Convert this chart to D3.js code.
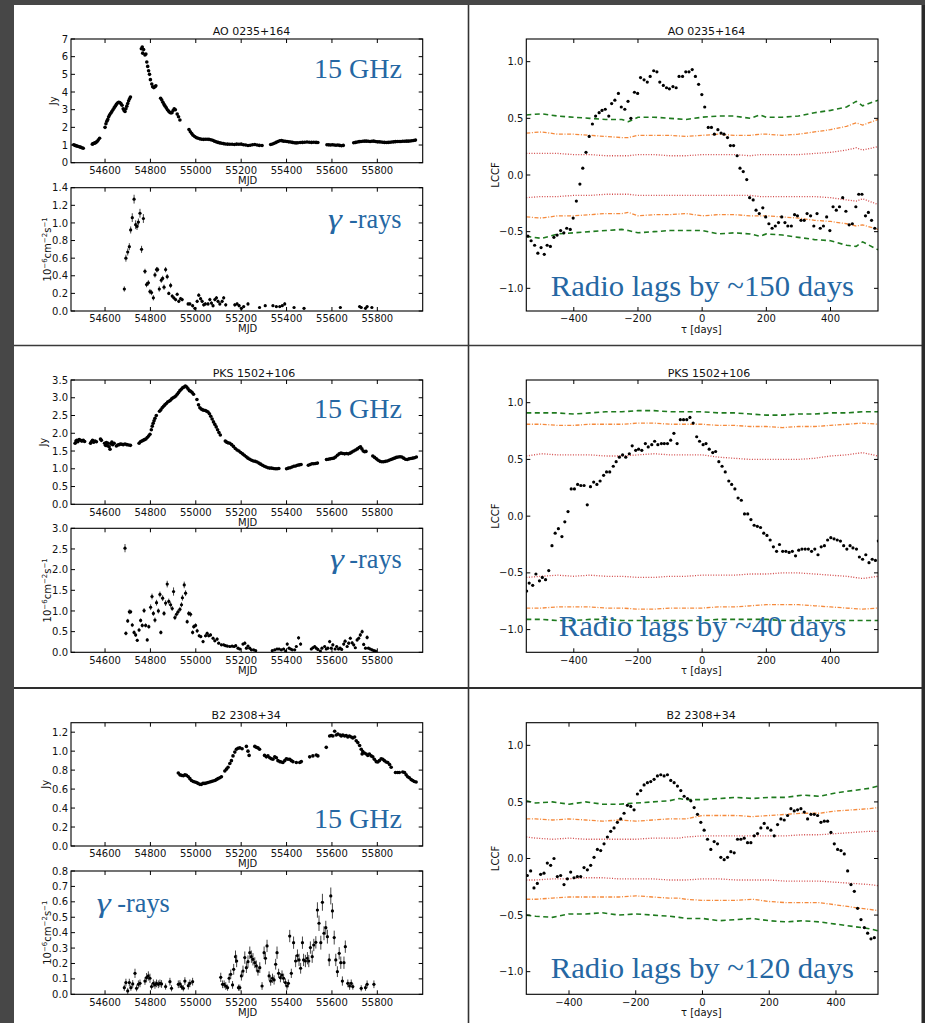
<!DOCTYPE html>
<html>
<head>
<meta charset="utf-8">
<script src="https://cdn.jsdelivr.net/npm/d3@7"></script>
<style>
  body { margin: 0; background: #474747; }
  svg { display: block; }
  text { font-family: 'DejaVu Sans', sans-serif; }
</style>
</head>
<body>
<div id="chart"></div>
<script>
// source names and axis ticks
const sources = ['AO 0235+164', 'PKS 1502+106', 'B2 2308+34']
const mjdTicks = [54600, 54800, 55000, 55200, 55400, 55600, 55800]
const tauTicks = [-400, -200, 0, 200, 400]
const lccfTicks = [-1.0, -0.5, 0.0, 0.5, 1.0]
const aoRadioTicks = [0, 1, 2, 3, 4, 5, 6, 7]
const aoGammaTicks = [0.0, 0.2, 0.4, 0.6, 0.8, 1.0, 1.2, 1.4]
const pksRadioTicks = [0.0, 0.5, 1.0, 1.5, 2.0, 2.5, 3.0, 3.5]
const pksGammaTicks = [0.0, 0.5, 1.0, 1.5, 2.0, 2.5, 3.0]
const b2RadioTicks = [0.0, 0.2, 0.4, 0.6, 0.8, 1.0, 1.2]
const b2GammaTicks = [0.0, 0.1, 0.2, 0.3, 0.4, 0.5, 0.6, 0.7, 0.8]
const lagLabels = ['Radio lags by ~150 days', 'Radio lags by ~40 days', 'Radio lags by ~120 days']

// 15 GHz light curves [MJD, Jy]
const aoRadio = [[54462,1.02],[54468,0.98],[54474,0.95],[54480,0.93],[54486,0.9],[54492,0.88],[54498,0.85],[54504,0.82],
  [54544,1.05],[54548,1.08],[54552,1.1],[54556,1.12],[54560,1.15],[54565,1.2],[54570,1.28],[54576,1.38],
  [54600,2.0],[54604,2.2],[54608,2.35],[54612,2.45],[54616,2.6],[54620,2.7],[54625,2.8],[54630,2.9],[54635,3.0],[54640,3.1],[54645,3.2],[54650,3.3],[54655,3.38],[54660,3.42],[54665,3.4],[54670,3.35],[54675,3.25],[54680,3.05],[54684,2.95],[54688,2.9],[54692,3.05],[54696,3.2],[54700,3.35],[54704,3.5],[54708,3.62],[54712,3.72],
  [54760,6.45],[54764,6.55],[54766,6.2],[54770,6.4],[54776,6.1],[54780,6.15],[54784,5.7],[54788,5.45],[54792,5.2],[54796,5.0],[54800,4.7],[54806,4.45],[54810,4.3],[54815,4.25],[54820,4.3],[54824,4.35],
  [54845,3.65],[54850,3.55],[54855,3.42],[54860,3.3],[54865,3.2],[54870,3.1],[54875,3.0],[54880,2.92],[54885,2.85],[54890,2.82],[54895,2.83],[54900,2.95],[54905,3.05],[54910,3.0],[54918,2.75],[54924,2.6],[54930,2.42],
  [54970,1.88],[54976,1.75],[54982,1.65],[54988,1.55],[54995,1.48],[55002,1.42],[55010,1.38],[55018,1.35],[55026,1.33],[55034,1.32],[55042,1.33],[55050,1.33],[55058,1.32],[55066,1.3],[55074,1.27],[55082,1.22],[55090,1.18],[55098,1.15],[55106,1.12],[55114,1.1],[55122,1.08],[55130,1.06],[55140,1.05],[55150,1.04],[55160,1.04],[55170,1.03],[55180,1.05],[55190,1.04],[55200,1.05],[55210,1.02],[55220,1.0],[55230,0.97],[55240,0.99],[55250,1.02],[55260,1.03],[55270,1.0],[55280,0.98],[55292,0.97],
  [55330,1.03],[55338,1.06],[55346,1.1],[55354,1.15],[55362,1.2],[55370,1.24],[55378,1.25],[55386,1.22],[55394,1.21],[55402,1.2],[55410,1.18],[55418,1.17],[55426,1.15],[55434,1.13],[55442,1.12],[55450,1.13],[55460,1.14],[55470,1.15],[55480,1.16],[55490,1.17],[55500,1.16],[55510,1.15],[55520,1.16],[55530,1.15],[55538,1.14],
  [55578,1.02],[55586,1.01],[55594,1.0],[55602,1.02],[55610,1.0],[55618,0.99],[55626,1.0],[55634,0.98],[55642,0.96],[55650,0.98],
  [55696,1.13],[55704,1.15],[55712,1.17],[55720,1.19],[55728,1.2],[55736,1.21],[55744,1.22],[55752,1.22],[55760,1.21],[55768,1.2],[55776,1.21],[55784,1.22],[55792,1.2],[55800,1.18],[55808,1.18],[55816,1.17],[55824,1.16],[55832,1.15],[55840,1.14],[55848,1.15],[55856,1.16],[55864,1.17],[55872,1.18],[55880,1.19],[55888,1.2],[55896,1.2],[55904,1.2],[55912,1.21],[55920,1.21],[55928,1.22],[55936,1.22],[55944,1.23],[55952,1.24],[55960,1.26],[55968,1.28]]

const pksRadio = [[54468,1.72],[54472,1.78],[54476,1.8],[54480,1.76],[54486,1.82],[54492,1.8],[54498,1.78],[54504,1.8],[54510,1.77],
  [54536,1.72],[54540,1.76],[54545,1.8],[54550,1.75],[54556,1.78],[54562,1.76],[54580,1.84],[54584,1.8],
  [54598,1.72],[54602,1.66],[54606,1.74],[54610,1.65],[54614,1.72],[54618,1.62],[54622,1.55],[54626,1.7],[54630,1.75],[54634,1.68],[54640,1.72],
  [54650,1.64],[54656,1.67],[54662,1.68],[54668,1.7],[54674,1.69],[54680,1.68],[54688,1.7],[54696,1.68],[54704,1.67],[54712,1.66],
  [54750,1.72],[54756,1.76],[54762,1.78],[54768,1.8],[54774,1.82],[54780,1.84],[54786,1.88],[54792,1.92],[54798,1.97],
  [54804,2.1],[54808,2.2],[54812,2.28],[54816,2.35],[54820,2.42],[54826,2.5],
  [54840,2.62],[54846,2.66],[54852,2.72],[54858,2.76],[54864,2.8],[54870,2.84],[54876,2.88],[54882,2.9],[54888,2.93],[54894,2.97],[54900,3.0],[54906,3.02],[54912,3.05],[54918,3.1],[54924,3.15],[54930,3.2],[54936,3.24],[54942,3.28],[54948,3.3],[54954,3.33],[54960,3.3],[54966,3.25],[54972,3.2],[54978,3.18],[54984,3.15],[54990,3.1],
  [55005,2.95],[55012,2.8],[55018,2.72],[55024,2.68],[55030,2.66],[55036,2.65],[55042,2.64],[55048,2.62],[55054,2.6],[55060,2.55],[55066,2.48],[55072,2.4],[55078,2.32],[55084,2.25],[55090,2.18],[55096,2.1],[55102,2.02],[55108,1.95],
  [55130,1.78],[55136,1.75],[55142,1.73],[55150,1.72],[55158,1.68],[55166,1.63],[55174,1.57],[55182,1.53],[55190,1.5],[55198,1.46],[55206,1.42],[55214,1.38],[55222,1.34],[55230,1.3],[55238,1.27],[55246,1.24],[55254,1.22],[55262,1.21],[55270,1.19],[55278,1.16],[55286,1.13],[55294,1.1],[55302,1.07],[55310,1.05],[55318,1.03],[55326,1.02],[55334,1.02],[55342,1.01],[55350,1.0],[55358,1.0],[55366,1.01],
  [55400,1.0],[55408,1.02],[55416,1.03],[55424,1.05],[55432,1.07],[55440,1.08],[55448,1.1],[55456,1.11],[55464,1.12],
  [55496,1.1],[55504,1.12],[55512,1.14],[55520,1.14],[55528,1.15],[55536,1.16],
  [55576,1.26],[55584,1.27],[55592,1.28],[55600,1.29],[55608,1.3],[55616,1.33],[55624,1.38],[55632,1.42],[55640,1.44],[55648,1.43],[55656,1.42],[55664,1.43],[55672,1.42],[55680,1.44],[55688,1.47],[55696,1.5],[55704,1.53],[55712,1.56],[55720,1.6],[55726,1.62],[55732,1.56],[55738,1.5],[55744,1.48],[55750,1.49],
  [55780,1.36],[55788,1.32],[55796,1.28],[55804,1.24],[55812,1.21],[55820,1.2],[55828,1.2],[55836,1.21],[55844,1.22],[55852,1.24],[55860,1.26],[55868,1.28],[55876,1.3],[55884,1.32],[55892,1.33],[55900,1.34],[55908,1.33],[55916,1.3],[55924,1.27],[55932,1.26],[55940,1.28],[55948,1.29],[55956,1.3],[55964,1.31],[55972,1.33]]

const b2Radio = [[54923,0.77],[54930,0.75],[54937,0.745],[54945,0.74],[54952,0.75],[54959,0.745],[54967,0.73],[54974,0.71],[54981,0.69],[54989,0.68],[54996,0.675],[55003,0.67],[55010,0.66],[55018,0.65],[55025,0.65],[55032,0.66],[55040,0.66],[55047,0.665],[55054,0.67],[55062,0.675],[55069,0.68],[55076,0.685],[55084,0.69],[55091,0.7],[55098,0.71],[55106,0.72],[55113,0.73],
  [55128,0.79],[55135,0.81],[55142,0.83],[55150,0.87],[55157,0.9],[55164,0.95],[55172,0.99],[55179,1.02],[55186,1.03],[55194,1.035],[55204,1.025],[55223,1.05],[55230,1.0],[55235,0.955],
  [55260,1.05],[55267,1.04],[55274,1.035],[55281,1.02],[55303,0.955],[55311,0.94],[55318,0.95],[55326,0.93],[55333,0.92],[55340,0.915],[55348,0.94],[55355,0.93],[55362,0.9],[55370,0.89],[55377,0.885],[55384,0.88],[55392,0.9],[55399,0.92],[55406,0.915],[55414,0.915],[55421,0.9],[55428,0.89],[55443,0.88],[55458,0.88],[55465,0.89],
  [55502,0.94],[55516,0.95],[55531,0.96],[55538,0.95],[55575,1.04],
  [55590,1.16],[55597,1.165],[55604,1.16],[55612,1.21],[55619,1.17],[55626,1.18],[55636,1.17],[55641,1.16],[55648,1.17],[55656,1.16],[55663,1.165],[55670,1.15],[55677,1.16],[55685,1.15],[55692,1.14],[55700,1.15],[55707,1.11],[55714,1.09],[55722,1.06],[55729,1.02],[55733,0.97],[55736,0.995],[55743,0.98],[55751,0.97],[55758,0.955],[55765,0.97],[55773,0.95],[55780,0.94],[55787,0.915],[55795,0.89],[55802,0.885],[55809,0.9],[55817,0.92],[55824,0.915],[55831,0.9],[55839,0.885],[55846,0.88],[55854,0.86],[55861,0.83],
  [55880,0.775],[55890,0.775],[55897,0.775],[55912,0.78],[55920,0.775],[55927,0.75],[55934,0.73],[55941,0.72],[55949,0.7],[55956,0.69],[55963,0.68],[55971,0.675]]

// gamma-ray light curves [MJD, flux, error]
const aoGamma = [[54685,0.25,0.03],[54692,0.60,0.04],[54700,0.67,0.04],[54707,0.73,0.04],[54713,0.92,0.04],[54720,1.06,0.05],[54728,1.27,0.05],[54735,0.98,0.05],[54741,0.96,0.04],[54747,1.01,0.04],[54754,1.11,0.05],[54761,0.70,0.04],[54769,1.05,0.05],[54776,0.45,0.03],[54783,0.30,0.03],[54791,0.32,0.03],[54798,0.22,0.03],[54805,0.21,0.03],[54813,0.15,0.03],[54820,0.41,0.03],[54827,0.47,0.03],[54832,0.47,0.03],[54839,0.25,0.03],[54848,0.35,0.03],[54854,0.37,0.03],[54860,0.27,0.03],[54867,0.47,0.03],[54874,0.39,0.03],[54881,0.20,0.02],[54889,0.29,0.03],[54896,0.17,0.02],[54903,0.15,0.02],[54911,0.13,0.02],[54918,0.19,0.02],[54925,0.11,0.02],[54933,0.14,0.02],[54940,0.13,0.02],[54966,0.08,0.02],[54974,0.08,0.02],[54986,0.06,0.02],[54996,0.03,0.01],[55006,0.11,0.02],[55013,0.18,0.02],[55021,0.14,0.02],[55028,0.11,0.02],[55035,0.07,0.02],[55042,0.08,0.02],[55054,0.08,0.02],[55062,0.13,0.02],[55069,0.09,0.02],[55076,0.06,0.02],[55084,0.13,0.02],[55091,0.15,0.02],[55098,0.11,0.02],[55106,0.08,0.02],[55116,0.11,0.02],[55123,0.15,0.02],[55132,0.07,0.02],[55172,0.07,0.02],[55182,0.08,0.02],[55191,0.06,0.02],[55201,0.03,0.01],[55211,0.05,0.01],[55230,0.08,0.02],[55281,0.04,0.01],[55306,0.06,0.01],[55340,0.06,0.01],[55355,0.05,0.01],[55370,0.05,0.01],[55381,0.06,0.01],[55392,0.08,0.02],[55433,0.04,0.01],[55477,0.03,0.01],[55637,0.04,0.01],[55722,0.05,0.01],[55729,0.04,0.01],[55748,0.03,0.01],[55755,0.05,0.01],[55776,0.04,0.01]]

const pksGamma = [[54688,2.52,0.1],[54692,0.46,0.05],[54700,0.76,0.05],[54707,0.98,0.06],[54713,0.98,0.05],[54720,0.66,0.05],[54728,0.48,0.05],[54735,0.42,0.05],[54742,0.29,0.04],[54750,0.54,0.05],[54757,0.77,0.05],[54764,0.65,0.05],[54772,1.01,0.06],[54779,0.65,0.05],[54786,0.30,0.04],[54793,0.62,0.05],[54801,1.09,0.07],[54807,1.35,0.07],[54813,0.94,0.06],[54820,0.78,0.06],[54827,1.2,0.07],[54835,1.0,0.06],[54842,1.4,0.07],[54846,0.48,0.05],[54854,1.31,0.07],[54860,0.94,0.06],[54867,1.19,0.07],[54874,1.65,0.08],[54881,1.23,0.07],[54889,1.15,0.07],[54896,1.06,0.06],[54902,1.47,0.1],[54908,0.84,0.06],[54915,0.92,0.06],[54922,0.98,0.06],[54930,1.04,0.06],[54937,1.15,0.06],[54941,1.32,0.07],[54949,1.63,0.08],[54955,1.43,0.07],[54962,0.74,0.05],[54969,0.94,0.06],[54977,0.92,0.06],[54986,0.48,0.05],[54991,0.62,0.05],[54999,0.65,0.05],[55006,0.52,0.05],[55015,0.40,0.04],[55022,0.38,0.04],[55032,0.26,0.04],[55043,0.40,0.04],[55050,0.46,0.04],[55057,0.40,0.04],[55065,0.42,0.04],[55076,0.34,0.04],[55084,0.28,0.04],[55094,0.32,0.04],[55101,0.22,0.03],[55113,0.18,0.03],[55123,0.18,0.03],[55131,0.16,0.03],[55139,0.15,0.03],[55150,0.14,0.03],[55160,0.15,0.03],[55169,0.14,0.03],[55176,0.16,0.03],[55186,0.10,0.03],[55194,0.08,0.03],[55208,0.20,0.03],[55216,0.22,0.04],[55223,0.10,0.03],[55230,0.15,0.03],[55238,0.10,0.03],[55245,0.06,0.02],[55255,0.06,0.02],[55264,0.04,0.02],[55337,0.04,0.02],[55348,0.06,0.02],[55358,0.08,0.03],[55367,0.08,0.03],[55377,0.06,0.02],[55387,0.08,0.03],[55396,0.03,0.02],[55403,0.20,0.04],[55411,0.10,0.03],[55418,0.08,0.03],[55425,0.06,0.02],[55436,0.06,0.02],[55443,0.14,0.03],[55453,0.35,0.04],[55462,0.20,0.04],[55509,0.08,0.03],[55516,0.11,0.03],[55524,0.14,0.03],[55531,0.10,0.03],[55538,0.07,0.02],[55549,0.03,0.02],[55556,0.10,0.03],[55568,0.14,0.03],[55575,0.08,0.03],[55582,0.10,0.03],[55590,0.26,0.04],[55597,0.10,0.03],[55604,0.18,0.04],[55614,0.08,0.03],[55621,0.14,0.03],[55629,0.08,0.03],[55636,0.10,0.03],[55643,0.07,0.02],[55652,0.20,0.04],[55658,0.27,0.04],[55667,0.14,0.03],[55674,0.22,0.04],[55681,0.34,0.04],[55689,0.23,0.04],[55696,0.18,0.04],[55703,0.11,0.03],[55711,0.30,0.04],[55718,0.34,0.04],[55725,0.42,0.05],[55733,0.50,0.05],[55740,0.19,0.04],[55748,0.10,0.03],[55755,0.36,0.05],[55761,0.10,0.03],[55769,0.08,0.03],[55777,0.06,0.02],[55785,0.04,0.02],[55792,0.03,0.02]]

const b2Gamma = [[54685,0.043,0.02],[54692,0.076,0.025],[54700,0.022,0.02],[54707,0.076,0.025],[54714,0.043,0.02],[54722,0.067,0.025],[54732,0.136,0.03],[54739,0.039,0.02],[54747,0.065,0.025],[54754,0.071,0.025],[54776,0.086,0.025],[54783,0.108,0.03],[54791,0.119,0.03],[54798,0.104,0.03],[54805,0.05,0.02],[54813,0.071,0.025],[54820,0.061,0.025],[54827,0.071,0.025],[54835,0.065,0.025],[54842,0.071,0.025],[54849,0.067,0.025],[54867,0.05,0.02],[54886,0.082,0.025],[54893,0.039,0.02],[54923,0.065,0.025],[54930,0.067,0.025],[54937,0.05,0.02],[54945,0.039,0.02],[54952,0.086,0.025],[54967,0.056,0.025],[54974,0.071,0.025],[54986,0.082,0.025],
  [55110,0.11,0.03],[55118,0.065,0.025],[55125,0.065,0.025],[55132,0.054,0.025],[55140,0.043,0.02],[55147,0.104,0.03],[55154,0.13,0.03],[55162,0.061,0.025],[55167,0.162,0.035],[55175,0.244,0.04],[55180,0.216,0.04],[55188,0.043,0.02],[55194,0.043,0.02],[55201,0.119,0.03],[55208,0.151,0.035],[55216,0.238,0.04],[55223,0.173,0.035],[55230,0.212,0.04],[55238,0.27,0.04],[55245,0.244,0.04],[55252,0.227,0.04],[55260,0.205,0.035],[55267,0.184,0.035],[55274,0.151,0.03],[55282,0.173,0.035],[55292,0.054,0.025],[55301,0.27,0.04],[55307,0.234,0.04],[55314,0.314,0.04],[55323,0.119,0.03],[55330,0.086,0.03],[55338,0.104,0.03],[55345,0.093,0.03],[55352,0.195,0.035],[55358,0.27,0.04],[55365,0.136,0.03],[55373,0.108,0.03],[55380,0.125,0.03],[55387,0.104,0.03],[55395,0.076,0.025],[55402,0.054,0.025],[55408,0.071,0.025],[55414,0.378,0.04],[55421,0.136,0.03],[55431,0.335,0.04],[55440,0.216,0.04],[55448,0.251,0.04],[55455,0.223,0.04],[55462,0.169,0.035],[55470,0.335,0.04],[55475,0.223,0.04],[55483,0.216,0.04],[55492,0.234,0.04],[55498,0.216,0.04],[55505,0.303,0.04],[55513,0.244,0.04],[55520,0.32,0.04],[55529,0.337,0.04],[55536,0.547,0.05],[55543,0.461,0.05],[55551,0.335,0.045],[55558,0.597,0.055],[55565,0.396,0.045],[55573,0.432,0.045],[55580,0.374,0.045],[55588,0.223,0.04],[55595,0.638,0.055],[55602,0.541,0.05],[55610,0.368,0.045],[55617,0.223,0.04],[55624,0.147,0.035],[55632,0.266,0.04],[55639,0.205,0.04],[55646,0.086,0.03],[55653,0.205,0.04],[55659,0.309,0.04],[55670,0.071,0.025],[55678,0.054,0.025],[55685,0.071,0.025],[55692,0.05,0.02],[55729,0.039,0.02],[55748,0.043,0.02],[55755,0.065,0.025],[55785,0.065,0.025]]

// cross-correlations [tau, LCCF]
const aoLccf = [[-543,-0.54],[-533,-0.58],[-522,-0.62],[-512,-0.69],[-502,-0.64],[-492,-0.70],[-483,-0.62],[-473,-0.63],[-462,-0.55],[-452,-0.53],[-441,-0.49],[-431,-0.51],[-422,-0.47],[-411,-0.48],[-402,-0.38],[-392,-0.23],[-381,-0.08],[-372,0.06],[-362,0.20],[-352,0.34],[-342,0.45],[-332,0.52],[-321,0.55],[-312,0.57],[-302,0.58],[-291,0.52],[-282,0.63],[-272,0.66],[-261,0.72],[-252,0.60],[-241,0.58],[-231,0.65],[-222,0.50],[-211,0.73],[-201,0.72],[-192,0.86],[-181,0.84],[-171,0.82],[-162,0.87],[-151,0.92],[-141,0.91],[-132,0.82],[-121,0.79],[-111,0.77],[-102,0.76],[-91,0.78],[-81,0.77],[-72,0.87],[-61,0.87],[-51,0.91],[-41,0.91],[-31,0.93],[-21,0.87],[-11,0.80],[-1,0.71],[8,0.60],[19,0.42],[29,0.42],[38,0.36],[49,0.40],[59,0.37],[68,0.36],[79,0.33],[88,0.26],[98,0.26],[109,0.17],[118,0.06],[128,0.03],[139,-0.04],[148,-0.20],[159,-0.22],[168,-0.31],[178,-0.34],[189,-0.29],[198,-0.37],[208,-0.43],[218,-0.47],[228,-0.45],[238,-0.42],[248,-0.37],[258,-0.42],[267,-0.45],[278,-0.45],[288,-0.35],[297,-0.36],[308,-0.40],[318,-0.40],[327,-0.34],[338,-0.36],[348,-0.45],[358,-0.34],[368,-0.47],[378,-0.45],[388,-0.37],[398,-0.49],[408,-0.28],[418,-0.31],[428,-0.28],[438,-0.20],[448,-0.32],[458,-0.44],[468,-0.43],[479,-0.28],[488,-0.17],[498,-0.17],[509,-0.36],[518,-0.33],[528,-0.40],[538,-0.47]]

const pksLccf = [[-547,-0.66],[-539,-0.59],[-528,-0.61],[-518,-0.51],[-507,-0.57],[-498,-0.54],[-488,-0.56],[-478,-0.48],[-468,-0.26],[-458,-0.15],[-448,-0.11],[-437,-0.18],[-428,-0.05],[-418,0.04],[-408,0.24],[-398,0.24],[-388,0.28],[-378,0.27],[-368,0.27],[-358,0.10],[-348,0.26],[-338,0.30],[-328,0.28],[-318,0.31],[-307,0.36],[-298,0.39],[-288,0.39],[-277,0.44],[-268,0.48],[-258,0.52],[-248,0.54],[-238,0.52],[-227,0.55],[-218,0.62],[-207,0.58],[-198,0.59],[-188,0.58],[-177,0.64],[-168,0.61],[-157,0.63],[-148,0.66],[-138,0.63],[-127,0.64],[-118,0.64],[-108,0.64],[-98,0.67],[-88,0.73],[-78,0.64],[-68,0.85],[-58,0.85],[-48,0.85],[-38,0.87],[-28,0.82],[-17,0.70],[-8,0.66],[3,0.63],[12,0.64],[22,0.59],[33,0.56],[42,0.57],[52,0.48],[62,0.44],[72,0.39],[83,0.31],[92,0.28],[102,0.24],[112,0.16],[122,0.14],[132,0.02],[142,0.02],[152,-0.03],[162,-0.08],[172,-0.09],[182,-0.10],[192,-0.15],[202,-0.17],[212,-0.21],[222,-0.27],[232,-0.31],[241,-0.25],[251,-0.31],[261,-0.31],[271,-0.32],[281,-0.31],[291,-0.35],[301,-0.30],[311,-0.29],[321,-0.29],[331,-0.29],[341,-0.31],[351,-0.29],[361,-0.34],[371,-0.27],[381,-0.26],[391,-0.21],[401,-0.19],[411,-0.20],[421,-0.21],[431,-0.22],[441,-0.26],[451,-0.29],[461,-0.26],[470,-0.28],[481,-0.29],[490,-0.36],[500,-0.38],[510,-0.34],[520,-0.41],[530,-0.38],[540,-0.39],[549,-0.22]]

const b2Lccf = [[-525,-0.15],[-515,-0.11],[-505,-0.26],[-495,-0.22],[-485,-0.14],[-475,-0.13],[-465,-0.04],[-455,-0.06],[-445,0.0],[-435,-0.16],[-425,-0.15],[-415,-0.23],[-405,-0.18],[-395,-0.12],[-385,-0.17],[-375,-0.16],[-365,-0.16],[-355,-0.08],[-345,-0.10],[-335,-0.06],[-325,0.01],[-315,0.08],[-305,0.07],[-295,0.13],[-285,0.19],[-275,0.24],[-265,0.27],[-255,0.32],[-245,0.35],[-235,0.40],[-225,0.47],[-215,0.46],[-205,0.43],[-195,0.57],[-185,0.60],[-175,0.65],[-165,0.67],[-155,0.68],[-145,0.70],[-135,0.73],[-125,0.74],[-115,0.73],[-105,0.74],[-95,0.69],[-85,0.67],[-75,0.64],[-65,0.60],[-55,0.55],[-45,0.53],[-35,0.51],[-25,0.45],[-15,0.39],[-5,0.32],[5,0.25],[15,0.17],[25,0.08],[35,0.15],[45,0.13],[55,0.01],[65,-0.01],[75,0.01],[85,0.06],[95,0.05],[105,0.17],[115,0.17],[125,0.18],[135,0.14],[145,0.14],[155,0.20],[165,0.22],[175,0.27],[185,0.31],[195,0.27],[205,0.25],[215,0.20],[225,0.30],[235,0.35],[245,0.34],[255,0.38],[265,0.44],[275,0.42],[285,0.43],[295,0.44],[305,0.41],[315,0.35],[325,0.39],[335,0.39],[345,0.38],[355,0.32],[365,0.33],[375,0.33],[385,0.23],[395,0.13],[405,0.08],[415,0.07],[425,0.04],[435,-0.11],[445,-0.23],[455,-0.29],[465,-0.44],[475,-0.54],[485,-0.61],[495,-0.66],[505,-0.71],[515,-0.70]]

// significance levels [tau, 1s+, 2s+, 3s+, 1s-, 2s-, 3s-]
const aoSig = [[-548,0.19,0.37,0.53,-0.20,-0.37,-0.54],[-500,0.19,0.38,0.54,-0.19,-0.38,-0.56],[-450,0.19,0.36,0.52,-0.19,-0.36,-0.52],[-400,0.18,0.36,0.51,-0.18,-0.36,-0.51],[-350,0.18,0.35,0.50,-0.18,-0.35,-0.50],[-300,0.17,0.34,0.49,-0.17,-0.34,-0.49],[-250,0.17,0.33,0.49,-0.17,-0.34,-0.48],[-230,0.17,0.33,0.47,-0.17,-0.33,-0.49],[-200,0.18,0.35,0.51,-0.18,-0.36,-0.51],[-150,0.18,0.35,0.51,-0.18,-0.35,-0.50],[-100,0.17,0.35,0.50,-0.18,-0.35,-0.49],[-50,0.17,0.34,0.49,-0.18,-0.34,-0.49],[0,0.18,0.35,0.51,-0.18,-0.36,-0.49],[50,0.18,0.36,0.52,-0.18,-0.35,-0.52],[100,0.18,0.35,0.52,-0.18,-0.35,-0.51],[150,0.17,0.35,0.50,-0.18,-0.36,-0.52],[180,0.18,0.36,0.53,-0.19,-0.36,-0.54],[200,0.18,0.36,0.51,-0.19,-0.36,-0.52],[250,0.18,0.35,0.51,-0.19,-0.37,-0.53],[300,0.18,0.36,0.52,-0.19,-0.38,-0.55],[350,0.19,0.38,0.55,-0.19,-0.40,-0.57],[400,0.20,0.40,0.57,-0.20,-0.41,-0.58],[450,0.22,0.43,0.60,-0.22,-0.43,-0.62],[480,0.24,0.46,0.65,-0.23,-0.45,-0.63],[500,0.22,0.44,0.61,-0.21,-0.44,-0.59],[548,0.25,0.49,0.66,-0.26,-0.48,-0.66]]
const pksSig = [[-548,0.53,0.81,0.91,-0.54,-0.81,-0.91],[-500,0.55,0.81,0.91,-0.53,-0.81,-0.91],[-450,0.54,0.80,0.91,-0.52,-0.80,-0.92],[-400,0.54,0.80,0.90,-0.53,-0.80,-0.92],[-350,0.54,0.81,0.91,-0.52,-0.80,-0.91],[-300,0.53,0.81,0.92,-0.53,-0.81,-0.91],[-250,0.53,0.81,0.92,-0.53,-0.81,-0.92],[-200,0.54,0.82,0.93,-0.54,-0.82,-0.92],[-150,0.55,0.82,0.93,-0.54,-0.82,-0.92],[-100,0.54,0.81,0.92,-0.53,-0.81,-0.92],[-50,0.54,0.81,0.92,-0.53,-0.81,-0.92],[0,0.54,0.81,0.92,-0.52,-0.81,-0.92],[50,0.52,0.80,0.91,-0.52,-0.80,-0.91],[100,0.51,0.80,0.91,-0.52,-0.80,-0.91],[150,0.50,0.79,0.90,-0.51,-0.79,-0.91],[200,0.50,0.79,0.89,-0.51,-0.78,-0.91],[250,0.50,0.78,0.89,-0.50,-0.78,-0.92],[300,0.50,0.79,0.90,-0.50,-0.78,-0.92],[350,0.51,0.79,0.90,-0.51,-0.79,-0.92],[400,0.53,0.80,0.91,-0.52,-0.80,-0.92],[450,0.54,0.81,0.91,-0.53,-0.81,-0.92],[500,0.56,0.82,0.92,-0.55,-0.82,-0.92],[548,0.53,0.81,0.92,-0.53,-0.81,-0.92]]
const b2Sig = [[-528,0.19,0.35,0.51,-0.19,-0.36,-0.50],[-500,0.18,0.35,0.49,-0.19,-0.36,-0.51],[-450,0.17,0.34,0.50,-0.18,-0.35,-0.52],[-400,0.18,0.35,0.48,-0.18,-0.34,-0.49],[-350,0.17,0.34,0.50,-0.17,-0.34,-0.49],[-300,0.17,0.33,0.48,-0.17,-0.34,-0.48],[-250,0.17,0.34,0.48,-0.18,-0.34,-0.50],[-200,0.17,0.33,0.49,-0.18,-0.33,-0.49],[-150,0.18,0.34,0.50,-0.18,-0.34,-0.50],[-100,0.18,0.35,0.51,-0.19,-0.35,-0.51],[-70,0.18,0.35,0.53,-0.19,-0.35,-0.52],[-50,0.19,0.35,0.52,-0.19,-0.36,-0.53],[0,0.20,0.38,0.52,-0.18,-0.37,-0.53],[50,0.20,0.38,0.53,-0.18,-0.37,-0.55],[100,0.20,0.38,0.54,-0.19,-0.37,-0.54],[150,0.20,0.37,0.53,-0.19,-0.36,-0.53],[200,0.20,0.38,0.54,-0.19,-0.38,-0.55],[250,0.20,0.39,0.54,-0.20,-0.39,-0.56],[300,0.21,0.40,0.56,-0.20,-0.39,-0.55],[350,0.21,0.40,0.55,-0.20,-0.39,-0.56],[400,0.22,0.42,0.58,-0.21,-0.41,-0.58],[450,0.23,0.43,0.60,-0.22,-0.43,-0.60],[500,0.24,0.44,0.62,-0.23,-0.45,-0.62],[526,0.24,0.45,0.64,-0.24,-0.46,-0.64]]

const W = 925, H = 1023
const blue = '#2567a3'
const serif = "'Liberation Serif', 'DejaVu Serif', serif"
const leftX = [71, 422.7]
const rightX = [526.3, 878]
const mjdDomain = [54450, 56000]

const rowLayout = [
  { radio: [39, 162.7], gamma: [187.7, 311], titleY: 35, titleL: 251.5, titleR: 706.5, jyX: 57.3, ghzY: 77.7, gamX: 328, rayX: 349, rayY: 228, lagX: 550.7, lagW: 303.3, lagY: 295.7, tau: [-548, 548] },
  { radio: [380, 504.3], gamma: [528.3, 652.3], titleY: 377.3, titleL: 254, titleR: 709, jyX: 47, ghzY: 417.7, gamX: 330, rayX: 349.3, rayY: 567.7, lagX: 558.7, lagW: 287.6, lagY: 635.7, tau: [-548, 548] },
  { radio: [722.7, 846], gamma: [871, 994.3], titleY: 719, titleL: 246, titleR: 701, jyX: 48.5, ghzY: 827.7, gamX: 96.7, rayX: 117.3, rayY: 911.7, lagX: 550.7, lagW: 303.3, lagY: 978.3, tau: [-528, 526] }
]

const panels = [
  { radio: aoRadio, gamma: aoGamma, lccf: aoLccf, sig: aoSig, rTicks: aoRadioTicks, gTicks: aoGammaTicks, rMax: 7, rFmt: d3.format('d') },
  { radio: pksRadio, gamma: pksGamma, lccf: pksLccf, sig: pksSig, rTicks: pksRadioTicks, gTicks: pksGammaTicks, rMax: 3.5, rFmt: d3.format('.1f') },
  { radio: b2Radio, gamma: b2Gamma, lccf: b2Lccf, sig: b2Sig, rTicks: b2RadioTicks, gTicks: b2GammaTicks, rMax: 1.3, rFmt: d3.format('.1f') }
]

const svg = d3.select('#chart').append('svg').attr('width', W).attr('height', H)

svg.append('rect').attr('width', W).attr('height', H).attr('fill', '#474747')
svg.append('rect').attr('x', 14).attr('y', 5).attr('width', 908).attr('height', H - 5).attr('fill', '#fff')

// panel dividers
svg.append('line').attr('x1', 468.5).attr('x2', 468.5).attr('y1', 5).attr('y2', H)
  .attr('stroke', '#333').attr('stroke-width', 1.6)
svg.append('line').attr('x1', 14).attr('x2', 922).attr('y1', 345.5).attr('y2', 345.5)
  .attr('stroke', '#3a3a3a').attr('stroke-width', 1.6)
svg.append('line').attr('x1', 14).attr('x2', 922).attr('y1', 688).attr('y2', 688)
  .attr('stroke', '#2e2e2e').attr('stroke-width', 2)
svg.append('rect').attr('x', 921.5).attr('y', 5).attr('width', 4).attr('height', H).attr('fill', '#2a2a2a')

let clipId = 0

function drawFrame(g, x, y, xTicks, yTicks, xFmt, yFmt) {
  const [x0, x1] = x.range()
  const [y0, y1] = y.range() // y0 bottom, y1 top
  const tk = 4
  xTicks.forEach(t => {
    const px = x(t)
    g.append('line').attr('x1', px).attr('x2', px).attr('y1', y0).attr('y2', y0 - tk).attr('stroke', '#000')
    g.append('line').attr('x1', px).attr('x2', px).attr('y1', y1).attr('y2', y1 + tk).attr('stroke', '#000')
    g.append('text').attr('x', px).attr('y', y0 + 11.3).attr('text-anchor', 'middle')
      .attr('font-size', 10).attr('fill', '#111').text(xFmt(t))
  })
  yTicks.forEach(t => {
    const py = y(t)
    g.append('line').attr('x1', x0).attr('x2', x0 + tk).attr('y1', py).attr('y2', py).attr('stroke', '#000')
    g.append('line').attr('x1', x1).attr('x2', x1 - tk).attr('y1', py).attr('y2', py).attr('stroke', '#000')
    g.append('text').attr('x', x0 - 3).attr('y', py).attr('dy', '0.36em').attr('text-anchor', 'end')
      .attr('font-size', 10).attr('fill', '#111').text(yFmt(t))
  })
  g.append('rect').attr('x', x0).attr('y', y1).attr('width', x1 - x0).attr('height', y0 - y1)
    .attr('fill', 'none').attr('stroke', '#000').attr('stroke-width', 1.1)
}

function clipFor(g, x, y) {
  const id = 'clip' + (clipId++)
  const [x0, x1] = x.range()
  const [y0, y1] = y.range()
  g.append('clipPath').attr('id', id).append('rect')
    .attr('x', x0).attr('y', y1).attr('width', x1 - x0).attr('height', y0 - y1)
  return 'url(#' + id + ')'
}

function label(g, x, y, txt, size) {
  return g.append('text').attr('x', x).attr('y', y).attr('text-anchor', 'middle')
    .attr('font-size', size || 10).attr('fill', '#111').text(txt)
}

function blueText(g, x, y, txt, size, width, italic) {
  return g.append('text').attr('x', x).attr('y', y)
    .style('font-family', serif).style('font-style', italic ? 'italic' : 'normal')
    .attr('font-size', size).attr('fill', blue)
    .attr('textLength', width).attr('lengthAdjust', 'spacingAndGlyphs').text(txt)
}

rowLayout.forEach((row, i) => {
  const p = panels[i]
  const g = svg.append('g')

  // radio light curve
  const x = d3.scaleLinear().domain(mjdDomain).range(leftX)
  const yR = d3.scaleLinear().domain([0, p.rMax]).range([row.radio[1], row.radio[0]])
  g.append('g').attr('clip-path', clipFor(g, x, yR))
    .selectAll('circle').data(p.radio).enter().append('circle')
    .attr('cx', d => x(d[0])).attr('cy', d => yR(d[1])).attr('r', 1.8).attr('fill', '#000')
  drawFrame(g, x, yR, mjdTicks, p.rTicks, d3.format('d'), p.rFmt)
  label(g, row.titleL, row.titleY, sources[i], 11)
  label(g, 247.7, row.radio[1] + 21.3, 'MJD')
  g.append('text').attr('transform', `translate(${row.jyX},${(row.radio[0] + row.radio[1]) / 2}) rotate(-90)`)
    .attr('text-anchor', 'middle').attr('font-size', 10).attr('fill', '#111').text('Jy')

  // gamma-ray light curve
  const yG = d3.scaleLinear().domain([0, d3.max(p.gTicks)]).range([row.gamma[1], row.gamma[0]])
  const gg = g.append('g').attr('clip-path', clipFor(g, x, yG))
  const pts = gg.selectAll('g.pt').data(p.gamma).enter().append('g').attr('class', 'pt')
  pts.append('line').attr('x1', d => x(d[0])).attr('x2', d => x(d[0]))
    .attr('y1', d => yG(d[1] - d[2])).attr('y2', d => yG(d[1] + d[2]))
    .attr('stroke', '#444').attr('stroke-width', 1)
  pts.append('line').attr('x1', d => x(d[0] - 5)).attr('x2', d => x(d[0] + 5))
    .attr('y1', d => yG(d[1])).attr('y2', d => yG(d[1]))
    .attr('stroke', '#444').attr('stroke-width', 1)
  pts.append('circle').attr('cx', d => x(d[0])).attr('cy', d => yG(d[1])).attr('r', 1.6).attr('fill', '#000')
  drawFrame(g, x, yG, mjdTicks, p.gTicks, d3.format('d'), d3.format('.1f'))
  label(g, 247.7, row.gamma[1] + 21.3, 'MJD')
  const gl = g.append('text').attr('transform', `translate(51,${(row.gamma[0] + row.gamma[1]) / 2}) rotate(-90)`)
    .attr('text-anchor', 'middle').attr('font-size', 10).attr('fill', '#111')
  gl.append('tspan').text('10')
  gl.append('tspan').attr('dy', -4).attr('font-size', 7).text('\u22126')
  gl.append('tspan').attr('dy', 4).text('cm')
  gl.append('tspan').attr('dy', -4).attr('font-size', 7).text('\u22122')
  gl.append('tspan').attr('dy', 4).text('s')
  gl.append('tspan').attr('dy', -4).attr('font-size', 7).text('\u22121')

  // band labels
  blueText(g, 314, row.ghzY, '15 GHz', 27, 88, false)
  blueText(g, row.gamX, row.rayY, '\u03b3', 28, 14, true)
  blueText(g, row.rayX, row.rayY, '-rays', 28, 52.5, false)

  // cross-correlation
  const xt = d3.scaleLinear().domain(row.tau).range(rightX)
  const yc = d3.scaleLinear().domain([-1.2, 1.2]).range([row.gamma[1], row.radio[0]])
  const cg = g.append('g').attr('clip-path', clipFor(g, xt, yc))
  const levels = [
    { col: 1, stroke: '#d24a4a', dash: '1,1.6', w: 1.3 },
    { col: 2, stroke: '#f58a3c', dash: '4,1.6,1,1.6', w: 1.3 },
    { col: 3, stroke: '#1e7a1e', dash: '5,3.5', w: 1.6 },
    { col: 4, stroke: '#d24a4a', dash: '1,1.6', w: 1.3 },
    { col: 5, stroke: '#f58a3c', dash: '4,1.6,1,1.6', w: 1.3 },
    { col: 6, stroke: '#1e7a1e', dash: '5,3.5', w: 1.6 }
  ]
  levels.forEach(l => {
    cg.append('path').datum(p.sig)
      .attr('d', d3.line().x(d => xt(d[0])).y(d => yc(d[l.col])))
      .attr('fill', 'none').attr('stroke', l.stroke).attr('stroke-width', l.w).attr('stroke-dasharray', l.dash)
  })
  cg.selectAll('circle').data(p.lccf).enter().append('circle')
    .attr('cx', d => xt(d[0])).attr('cy', d => yc(d[1])).attr('r', 1.6).attr('fill', '#000')
  drawFrame(g, xt, yc, tauTicks, lccfTicks, d3.format('d'), d3.format('.1f'))
  label(g, row.titleR, row.titleY, sources[i], 11)
  label(g, 701.3, row.gamma[1] + 22, '\u03c4 [days]')
  g.append('text').attr('transform', `translate(498.5,${(row.gamma[1] + row.radio[0]) / 2}) rotate(-90)`)
    .attr('text-anchor', 'middle').attr('font-size', 10).attr('fill', '#111').text('LCCF')
  blueText(g, row.lagX, row.lagY, lagLabels[i], 30, row.lagW, false)
})
</script>
</body>
</html>
